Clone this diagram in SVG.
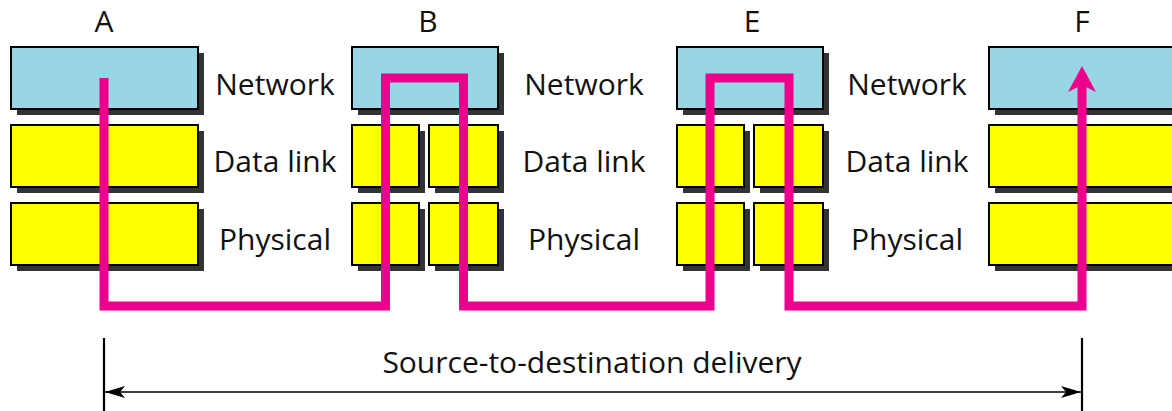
<svg xmlns="http://www.w3.org/2000/svg" width="1172" height="411" viewBox="0 0 1172 411">
  <style>
    .net { fill: #98d6e6; stroke: #000; stroke-width: 2; }
    .lay { fill: #ffff00; stroke: #000; stroke-width: 2; }
    .shd { fill: #333333; }
    .lbl { font-family: "Open Sans", "Liberation Sans", sans-serif; font-size: 30px; fill: #111; text-anchor: middle; }
    .path { fill: none; stroke: #ec008c; stroke-width: 9; stroke-linejoin: miter; }
    .dim { stroke: #000; fill: none; }
  </style>
  <defs>
    <!-- concave arrowhead for the delivery span -->
    <marker id="dimArrow" viewBox="0 0 20 12" refX="20" refY="6" markerWidth="20" markerHeight="12" markerUnits="userSpaceOnUse" orient="auto-start-reverse">
      <path d="M20,6 L0,0 L5,6 L0,12 Z" fill="#000"/>
    </marker>
  </defs>

  <!-- Station A -->
  <g id="node-A">
    <text class="lbl" x="104" y="32">A</text>
    <rect class="shd" x="17" y="53" width="187" height="62"/>
    <rect class="net" x="11" y="47" width="187" height="62"/>
    <rect class="shd" x="17" y="131" width="187" height="62"/>
    <rect class="lay" x="11" y="125" width="187" height="62"/>
    <rect class="shd" x="17" y="209" width="187" height="62"/>
    <rect class="lay" x="11" y="203" width="187" height="62"/>
  </g>

  <!-- Router B -->
  <g id="node-B">
    <text class="lbl" x="428" y="32">B</text>
    <rect class="shd" x="358" y="53" width="146" height="62"/>
    <rect class="net" x="352" y="47" width="146" height="62"/>
    <rect class="shd" x="358" y="131" width="67" height="62"/>
    <rect class="lay" x="352" y="125" width="67" height="62"/>
    <rect class="shd" x="435" y="131" width="69" height="62"/>
    <rect class="lay" x="429" y="125" width="69" height="62"/>
    <rect class="shd" x="358" y="209" width="67" height="62"/>
    <rect class="lay" x="352" y="203" width="67" height="62"/>
    <rect class="shd" x="435" y="209" width="69" height="62"/>
    <rect class="lay" x="429" y="203" width="69" height="62"/>
  </g>

  <!-- Router E -->
  <g id="node-E">
    <text class="lbl" x="752" y="32">E</text>
    <rect class="shd" x="683" y="53" width="146" height="62"/>
    <rect class="net" x="677" y="47" width="146" height="62"/>
    <rect class="shd" x="683" y="131" width="67" height="62"/>
    <rect class="lay" x="677" y="125" width="67" height="62"/>
    <rect class="shd" x="760" y="131" width="69" height="62"/>
    <rect class="lay" x="754" y="125" width="69" height="62"/>
    <rect class="shd" x="683" y="209" width="67" height="62"/>
    <rect class="lay" x="677" y="203" width="67" height="62"/>
    <rect class="shd" x="760" y="209" width="69" height="62"/>
    <rect class="lay" x="754" y="203" width="69" height="62"/>
  </g>

  <!-- Station F -->
  <g id="node-F">
    <text class="lbl" x="1082" y="32">F</text>
    <rect class="shd" x="995" y="53" width="187" height="62"/>
    <rect class="net" x="989" y="47" width="187" height="62"/>
    <rect class="shd" x="995" y="131" width="187" height="62"/>
    <rect class="lay" x="989" y="125" width="187" height="62"/>
    <rect class="shd" x="995" y="209" width="187" height="62"/>
    <rect class="lay" x="989" y="203" width="187" height="62"/>
  </g>

  <!-- Layer names between the stations -->
  <g id="layer-labels">
    <text class="lbl" x="275" y="95">Network</text>
    <text class="lbl" x="275" y="172">Data link</text>
    <text class="lbl" x="275" y="250">Physical</text>
    <text class="lbl" x="584" y="95">Network</text>
    <text class="lbl" x="584" y="172">Data link</text>
    <text class="lbl" x="584" y="250">Physical</text>
    <text class="lbl" x="907" y="95">Network</text>
    <text class="lbl" x="907" y="172">Data link</text>
    <text class="lbl" x="907" y="250">Physical</text>
  </g>

  <!-- Packet route and delivery span -->
  <g id="connectors">
    <path class="path" d="M104,78 V306 H385.5 V78 H463.5 V306 H710 V78 H789 V306 H1082 V84"/>
    <path d="M1082,66 L1096,92 L1082,85 L1068,92 Z" fill="#ec008c"/>
    <line class="dim" x1="104" y1="338" x2="104" y2="411" stroke-width="2.2"/>
    <line class="dim" x1="1082" y1="338" x2="1082" y2="411" stroke-width="2.2"/>
    <line class="dim" x1="105" y1="392" x2="1081" y2="392" stroke-width="1.6" marker-start="url(#dimArrow)" marker-end="url(#dimArrow)"/>
    <text class="lbl" x="592" y="373">Source-to-destination delivery</text>
  </g>
</svg>
